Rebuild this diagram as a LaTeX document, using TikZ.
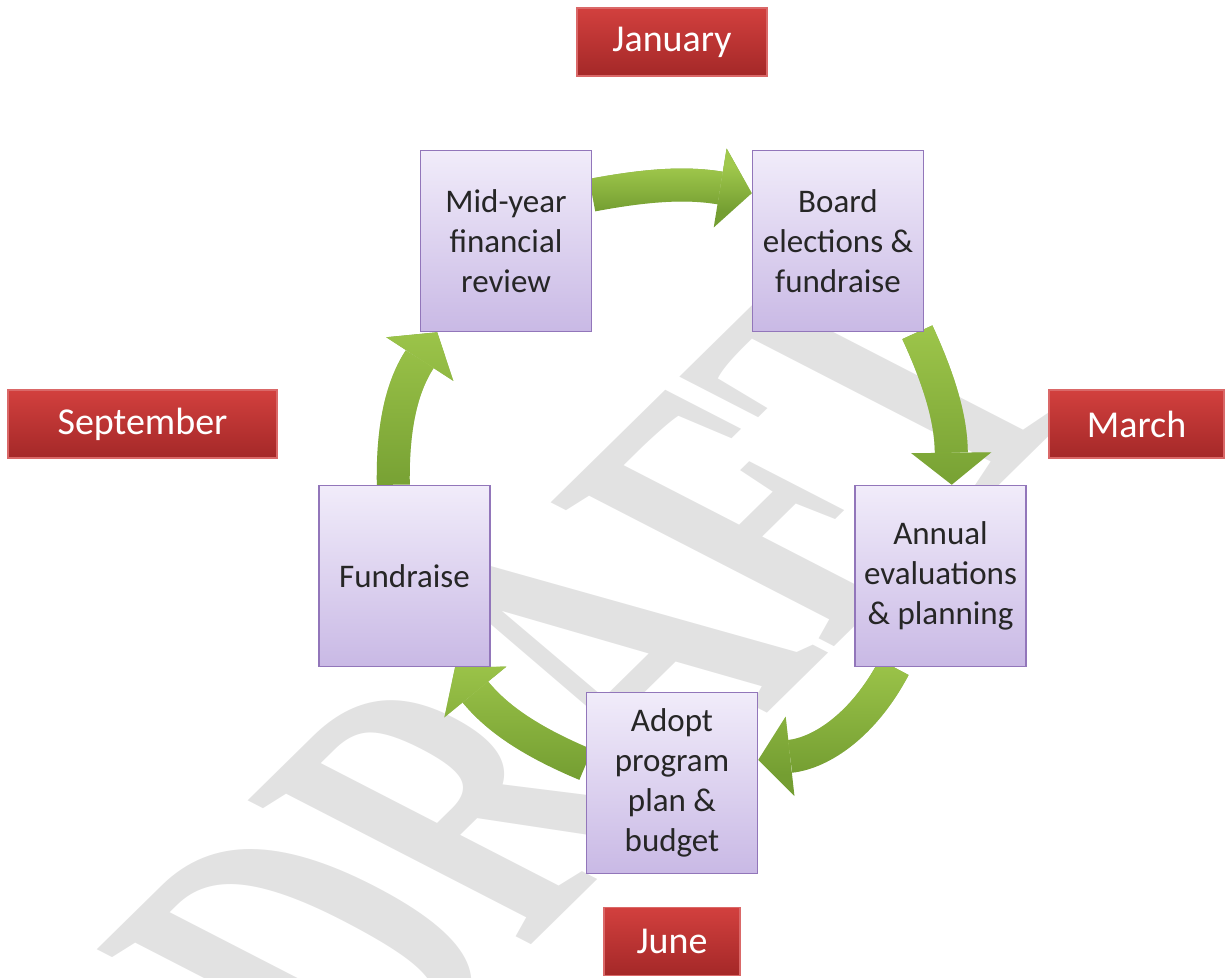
\documentclass[tikz,border=0pt]{standalone}
\usepackage{fontspec}
\setmainfont{Carlito}
\newfontfamily\wmfont{Liberation Serif}
\usepackage{tikz}
\usetikzlibrary{arrows.meta,fadings,backgrounds}
\definecolor{boxtop}{RGB}{241,236,250}
\definecolor{boxbot}{RGB}{201,185,229}
\definecolor{boxline}{RGB}{146,118,186}
\definecolor{redtop}{RGB}{210,64,62}
\definecolor{redbot}{RGB}{164,40,40}
\definecolor{redline}{RGB}{218,104,104}
\definecolor{grnlight}{RGB}{160,200,76}
\definecolor{grndark}{RGB}{116,158,50}
\definecolor{wmgray}{RGB}{226,226,226}
\tikzset{
  % --- cycle steps -----------------------------------------------------------
  stepbox/.style={draw=boxline,line width=1.5pt,top color=boxtop,bottom color=boxbot,
                  minimum width=171pt,minimum height=181pt,align=center,inner sep=4pt,
                  text=black!85,font=\fontsize{33}{40}\selectfont},
  % --- month tags ------------------------------------------------------------
  month/.style={draw=redline,line width=1.5pt,top color=redtop,bottom color=redbot,
                minimum height=68pt,text=white,font=\fontsize{38}{44}\selectfont},
  % --- curved block arrows (light on top, dark below) ------------------------
  flow/.style={line width=33pt,grndark,
               -{Triangle[width=80pt,length=32pt,line width=0pt]},
               postaction={draw,grnlight,path fading=south}},
  wmark/.style={transform shape,anchor=base west,inner sep=0pt,text=wmgray,
                font=\wmfont\bfseries\fontsize{460}{460}\selectfont},
}
\begin{document}
\begin{tikzpicture}[x=1pt,y=1pt]
  \useasboundingbox (0,0) rectangle (1225,977);
  \node[stepbox] (mid) at (506,736) {Mid-year\\financial\\review};
  \node[stepbox] (board) at (838,736) {Board\\elections \&\\fundraise};
  \node[stepbox] (annual) at (940.5,401) {Annual\\evaluations\\\& planning};
  \node[stepbox] (adopt) at (672,194) {Adopt\\program\\plan \&\\budget};
  \node[stepbox] (fund) at (404.5,401) {Fundraise};
  \node[month,minimum width=190pt] (jan) at (672,935) {January};
  \node[month,minimum width=269pt] (sep) at (142.5,553) {September};
  \node[month,minimum width=175pt] (mar) at (1136.5,553) {March};
  \node[month,minimum width=136pt] (jun) at (672,35.5) {June};
  \begin{scope}[on background layer]
    \begin{scope}[shift={(375,-122)},rotate=44.5,xslant=-0.33,xscale=0.64]
      \node[wmark] (wm) at (0,0) {DRAFT};
    \end{scope}
    \foreach \a/\b/\c in {mid.28/board.151/10,board.-49/annual.83/12,
                          annual.243/adopt.15/28,adopt.168/fund.-61/14,fund.97/mid.233/17}
      \draw[flow] (\a) to[bend left=\c] (\b);
  \end{scope}
\end{tikzpicture}
\end{document}
